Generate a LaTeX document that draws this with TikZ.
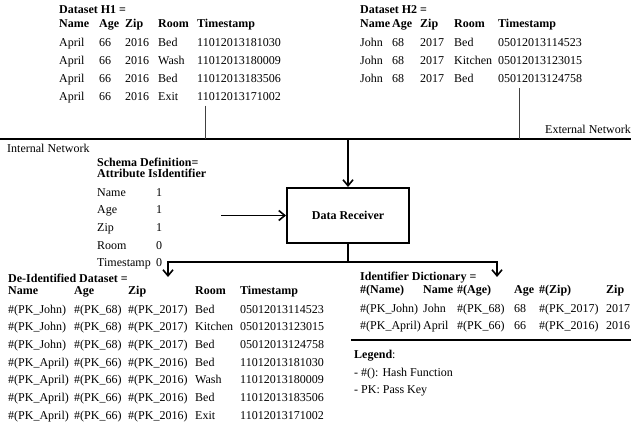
\documentclass[tikz,border=0pt]{standalone}
\usepackage{fontspec}
\setmainfont{Liberation Serif}
\usepackage{array}
\usetikzlibrary{arrows.meta,positioning}
\setlength{\tabcolsep}{0pt}

\newcommand{\hd}[1]{\textbf{#1}}
\tikzset{
  tbl/.style = {anchor=base west, inner sep=0pt, font=\fontsize{12}{17.7}\selectfont},
  recvbox/.style = {draw, line width=2pt, minimum width=122pt, minimum height=55pt,
                    font=\fontsize{12}{14}\selectfont\bfseries},
  barb/.style = {-{Straight Barb[length=6pt,width=10pt,line width=1.6pt]}, line width=1.1pt},
  netline/.style = {line width=1.4pt},
  drop/.style = {line width=1pt, black!75},
}

\begin{document}
\begin{tikzpicture}[x=1pt, y=-1pt]
  \useasboundingbox (0,0) rectangle (631,428);

  % the two source datasets
  \node[tbl] (h1) at (59,14) {\begin{tabular}[t]{@{}p{40pt}p{26pt}p{33pt}p{39pt}l@{}}
    \multicolumn{5}{@{}l}{\hd{Dataset H1 =}}\\[-3.7pt]
    \hd{Name} & \hd{Age} & \hd{Zip} & \hd{Room} & \hd{Timestamp}\\[1.3pt]
    April & 66 & 2016 & Bed  & 11012013181030\\
    April & 66 & 2016 & Wash & 11012013180009\\
    April & 66 & 2016 & Bed  & 11012013183506\\
    April & 66 & 2016 & Exit & 11012013171002
  \end{tabular}};
  \node[tbl] (h2) at (360,14) {\begin{tabular}[t]{@{}p{32pt}p{28pt}p{34pt}p{44pt}l@{}}
    \multicolumn{5}{@{}l}{\hd{Dataset H2 =}}\\[-3.7pt]
    \hd{Name} & \hd{Age} & \hd{Zip} & \hd{Room} & \hd{Timestamp}\\[1.3pt]
    John & 68 & 2017 & Bed     & 05012013114523\\
    John & 68 & 2017 & Kitchen & 05012013123015\\
    John & 68 & 2017 & Bed     & 05012013124758
  \end{tabular}};

  % network
  \coordinate (netl) at (0,139);
  \coordinate (netr) at (631,139);
  \draw[netline] (netl) -- (netr);
  \node[tbl] (inet) at (7,152) {Internal Network};
  \node[tbl, anchor=base east] (enet) at (631,133) {External Network};
  \coordinate (d1) at (205,139);
  \coordinate (d2) at (519,139);
  \draw[drop] (h1.south -| d1) -- (d1);
  \draw[drop] (h2.south -| d2) -- (d2);

  % receiver and schema
  \node[recvbox] (recv) at (348,215.5) {Data Receiver};
  \node[tbl] (schema) at (97,166) {\begin{tabular}[t]{@{}p{59pt}l@{}}
    \multicolumn{2}{@{}l}{\hd{Schema Definition=}}\\[-6.7pt]
    \multicolumn{2}{@{}l}{\hd{Attribute IsIdentifier}}\\[1.3pt]
    Name & 1\\
    Age & 1\\
    Zip & 1\\
    Room & 0\\
    Timestamp & 0
  \end{tabular}};
  \coordinate (sin) at ([xshift=-65pt]recv.west);
  \draw[barb] (recv.north |- netl) -- (recv.north);
  \draw[barb] (sin) -- (recv.west);

  % outputs
  \coordinate (split) at (348,262);
  \coordinate (tipl) at (168,277);
  \coordinate (tipr) at (497,277);
  \draw[line width=1.1pt] (recv.south) -- (split);
  \draw[barb] (split) -| (tipl);
  \draw[barb] (split) -| (tipr);

  \node[tbl] (deid) at (8,282) {\begin{tabular}[t]{@{}p{66pt}p{54pt}p{67pt}p{45pt}l@{}}
    \multicolumn{5}{@{}l}{\hd{De-Identified Dataset =}}\\[-5.7pt]
    \hd{Name} & \hd{Age} & \hd{Zip} & \hd{Room} & \hd{Timestamp}\\[1.3pt]
    \#(PK\_John)  & \#(PK\_68) & \#(PK\_2017) & Bed     & 05012013114523\\
    \#(PK\_John)  & \#(PK\_68) & \#(PK\_2017) & Kitchen & 05012013123015\\
    \#(PK\_John)  & \#(PK\_68) & \#(PK\_2017) & Bed     & 05012013124758\\
    \#(PK\_April) & \#(PK\_66) & \#(PK\_2016) & Bed     & 11012013181030\\
    \#(PK\_April) & \#(PK\_66) & \#(PK\_2016) & Wash    & 11012013180009\\
    \#(PK\_April) & \#(PK\_66) & \#(PK\_2016) & Bed     & 11012013183506\\
    \#(PK\_April) & \#(PK\_66) & \#(PK\_2016) & Exit    & 11012013171002
  \end{tabular}};
  \node[tbl] (dict) at (360,280) {\begin{tabular}[t]{@{}p{63pt}p{34pt}p{57pt}p{25pt}p{67pt}l@{}}
    \multicolumn{6}{@{}l}{\hd{Identifier Dictionary =}}\\[-4.7pt]
    \hd{\#(Name)} & \hd{Name} & \hd{\#(Age)} & \hd{Age} & \hd{\#(Zip)} & \hd{Zip}\\[1.3pt]
    \#(PK\_John)  & John  & \#(PK\_68) & 68 & \#(PK\_2017) & 2017\\
    \#(PK\_April) & April & \#(PK\_66) & 66 & \#(PK\_2016) & 2016
  \end{tabular}};
  \draw[netline] (351,340) -- (631,340);

  % legend
  \node[tbl] (legend) at (354,358) {\begin{tabular}[t]{@{}l@{}}
    \hd{Legend}:\\[0.3pt]
    - \#(): Hash Function\\
    - PK: Pass Key
  \end{tabular}};
\end{tikzpicture}
\end{document}
